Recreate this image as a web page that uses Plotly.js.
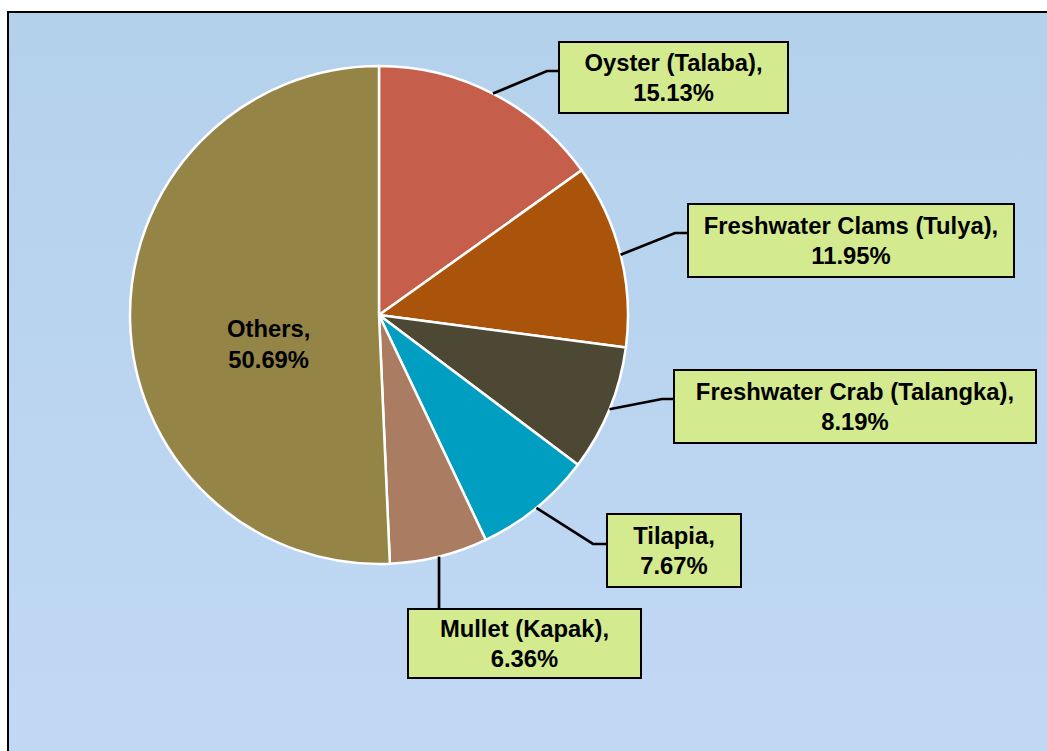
<!DOCTYPE html>
<html>
<head>
<meta charset="utf-8">
<script src="https://cdn.plot.ly/plotly-3.0.1.min.js"></script>
<style>
  html, body { margin: 0; padding: 0; width: 1047px; height: 751px; overflow: hidden; background: #ffffff; }
  #frame { position: absolute; left: 7px; top: 11px; width: 1100px; height: 800px;
           border: 2px solid #000; background: linear-gradient(to bottom, #b4d1eb 0%, #c2d9f6 100%); }
  #chart { position: absolute; left: 0; top: 0; width: 1047px; height: 751px; }
</style>
</head>
<body>
<div id="frame"></div>
<div id="chart"></div>
<script>
// ---- data ----
const categories = ["Oyster (Talaba)", "Freshwater Clams (Tulya)", "Freshwater Crab (Talangka)", "Tilapia", "Mullet (Kapak)", "Others"];
const shares = [15.13, 11.95, 8.19, 7.67, 6.36, 50.69];
const colors = ["#c55e4b", "#aa530a", "#4d4834", "#009ec0", "#aa7d62", "#948546"];

// ---- layout constants (pixels) ----
const W = 1047, H = 751;
const pie = { left: 130, right: 628, top: 66, bottom: 564 };
// label boxes: [left, top, right, bottom], elbow point [x, y]
const boxes = [
  { box: [558, 41, 789, 114], elbow: [547, 71], side: "left" },
  { box: [687, 203, 1015, 278], elbow: [675, 233], side: "left" },
  { box: [673, 369, 1037, 444], elbow: [662, 399], side: "left" },
  { box: [606, 513, 742, 588], elbow: [593, 544], side: "left" },
  { box: [407, 608, 642, 679], elbow: null, side: "top" },
  null
];
const othersLabelPos = [268, 344];
const FONT = "Liberation Sans, Arial, sans-serif";
const FSIZE = 23.8;

const px = x => x / W;
const py = y => 1 - y / H;

const cx = (pie.left + pie.right) / 2, cy = (pie.top + pie.bottom) / 2;
const R = (pie.right - pie.left) / 2;
const total = shares.reduce((a, b) => a + b, 0);

const labelText = i => "<b>" + categories[i] + ",<br>" + shares[i].toFixed(2) + "%</b>";

const annotations = [];
const shapes = [];
let cum = 0;
shares.forEach((v, i) => {
  const mid = (cum + v / 2) / total * 2 * Math.PI;
  cum += v;
  const b = boxes[i];
  if (!b) {
    annotations.push({
      xref: "paper", yref: "paper", x: px(othersLabelPos[0]), y: py(othersLabelPos[1]),
      xanchor: "center", yanchor: "middle", showarrow: false, text: labelText(i),
      font: { family: FONT, size: FSIZE, color: "#000" }
    });
    return;
  }
  const [l, t, r, btm] = b.box;
  const sx = cx + R * Math.sin(mid), sy = cy - R * Math.cos(mid);
  let path;
  if (b.side === "left") {
    const ey = b.elbow[1];
    path = `M ${px(sx)} ${py(sy)} L ${px(b.elbow[0])} ${py(ey)} L ${px(l)} ${py(ey)}`;
  } else {
    path = `M ${px(sx)} ${py(sy)} L ${px(sx)} ${py(t)}`;
  }
  shapes.push({ type: "path", xref: "paper", yref: "paper", path: path,
                line: { color: "#000", width: 2.7 } });
  annotations.push({
    xref: "paper", yref: "paper", x: px((l + r) / 2), y: py((t + btm) / 2),
    xanchor: "center", yanchor: "middle", showarrow: false, text: labelText(i),
    width: (r - l) - 4, height: (btm - t) - 4, borderpad: 0,
    bgcolor: "#d3eb8e", bordercolor: "#000", borderwidth: 2,
    font: { family: FONT, size: FSIZE, color: "#000" }
  });
});

const trace = {
  type: "pie",
  labels: categories,
  values: shares,
  sort: false,
  direction: "clockwise",
  rotation: 0,
  textinfo: "none",
  hoverinfo: "label+percent",
  marker: { colors: colors, line: { color: "#ffffff", width: 2.5 } },
  domain: { x: [px(pie.left), px(pie.right)], y: [py(pie.bottom), py(pie.top)] },
  showlegend: false
};

const layout = {
  width: W, height: H,
  margin: { l: 0, r: 0, t: 0, b: 0 },
  paper_bgcolor: "rgba(0,0,0,0)",
  plot_bgcolor: "rgba(0,0,0,0)",
  showlegend: false,
  annotations: annotations,
  shapes: shapes,
  font: { family: FONT }
};

Plotly.newPlot("chart", [trace], layout, { displayModeBar: false, staticPlot: true });
</script>
</body>
</html>
